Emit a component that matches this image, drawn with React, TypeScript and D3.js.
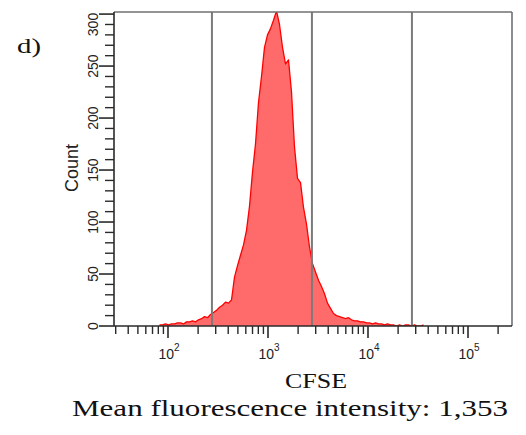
import React from "react";
import * as d3 from "d3";

// Histogram: counts per log-spaced channel (bin centre log10 = 1.915 + 0.03 * i)
const BIN_CENTER_LOG = 1.915;
const BIN_STEP_LOG = 0.03;
const counts = [
  1, 1, 2, 1, 2, 2, 3, 3, 2, 4,
  4, 5, 4, 6, 7, 9, 8, 11, 13, 15,
  18, 20, 23, 22, 25, 47, 58, 68, 78, 92,
  115, 148, 175, 215, 240, 268, 280, 286, 294, 303,
  290, 268, 252, 256, 225, 172, 142, 138, 114, 98,
  76, 60, 52, 44, 38, 31, 22, 17, 12, 10,
  9, 8, 7, 8, 6, 5, 5, 4, 4, 3,
  3, 2, 3, 2, 2, 1, 2, 1, 1, 0,
  1, 0, 1, 1, 0, 1, 0, 0, 1,
];

const gates = [275, 2750, 27500];
const xDomain = [Math.pow(10, 1.46), Math.pow(10, 5.44)];
const yDomain = [0, 302];
const yMajorTicks = [0, 50, 100, 150, 200, 250, 300];
const xMajorExps = [2, 3, 4, 5];

const xLabel = "CFSE";
const yLabel = "Count";
const panelLabel = "d)";
const caption = "Mean fluorescence intensity: 1,353";

export default function App() {
  const left = 114, right = 512, top = 12, bottom = 326;
  const x = d3.scaleLog().domain(xDomain).range([left, right]);
  const y = d3.scaleLinear().domain(yDomain).range([bottom, top]);

  const pts: [number, number][] = counts.map((c, i) => [
    Math.pow(10, BIN_CENTER_LOG + BIN_STEP_LOG * i),
    c,
  ]);

  const area = d3
    .area<[number, number]>()
    .x((d) => x(d[0]))
    .y0(y(0))
    .y1((d) => y(d[1]))
    .curve(d3.curveLinear);
  const line = d3
    .line<[number, number]>()
    .x((d) => x(d[0]))
    .y((d) => y(d[1]))
    .curve(d3.curveLinear);

  const xMinor: number[] = [];
  for (let e = 1; e <= 5; e++) {
    for (let m = 2; m <= 9; m++) {
      const v = m * Math.pow(10, e);
      if (v >= xDomain[0] && v <= xDomain[1]) xMinor.push(v);
    }
  }
  const yMinor = d3.range(0, 301, 10).filter((v) => v % 50 !== 0);

  const axisColor = "#2a2a2a";
  const frameColor = "#707070";

  return (
    <svg
      width={526}
      height={435}
      style={{ position: "absolute", left: 0, top: 0, background: "#fff" }}
    >
      <defs>
        <clipPath id="plotclip">
          <rect x={left} y={top} width={right - left} height={bottom - top} />
        </clipPath>
      </defs>
      <rect x={0} y={0} width={526} height={435} fill="#fff" />

      <g clipPath="url(#plotclip)">
        <path d={area(pts) || ""} fill="#ff6b6b" />
        <path d={line(pts) || ""} fill="none" stroke="#ff0000" strokeWidth={1.3} strokeLinejoin="round" />
      </g>

      {gates.map((g) => (
        <line
          key={g}
          x1={x(g)}
          x2={x(g)}
          y1={top}
          y2={bottom}
          stroke="#7a7a7a"
          strokeWidth={2}
        />
      ))}

      {/* frame */}
      <line x1={left} x2={right} y1={top} y2={top} stroke={frameColor} strokeWidth={1.6} />
      <line x1={right} x2={right} y1={top} y2={bottom} stroke={frameColor} strokeWidth={1.6} />
      <line x1={left} x2={left} y1={top} y2={bottom} stroke={axisColor} strokeWidth={1.6} />
      <line x1={left} x2={right} y1={bottom} y2={bottom} stroke={axisColor} strokeWidth={1.6} />

      {/* y ticks */}
      {yMinor.map((v) => (
        <line key={"ym" + v} x1={left - 9} x2={left} y1={y(v)} y2={y(v)} stroke={axisColor} strokeWidth={1.4} />
      ))}
      {yMajorTicks.map((v) => (
        <line key={"yM" + v} x1={left - 15} x2={left} y1={y(v)} y2={y(v)} stroke={axisColor} strokeWidth={1.6} />
      ))}
      {yMajorTicks.map((v) => {
        const cy = Math.max(y(v), top + 12.5);
        return (
          <text
            key={"yl" + v}
            transform={`translate(98,${cy}) rotate(-90)`}
            textAnchor="middle"
            fontFamily="Liberation Sans, Arial, sans-serif"
            fontSize={14}
            fill="#222"
          >
            {v}
          </text>
        );
      })}

      {/* x ticks */}
      {xMinor.map((v) => (
        <line key={"xm" + v} x1={x(v)} x2={x(v)} y1={bottom} y2={bottom + 8} stroke={axisColor} strokeWidth={1.4} />
      ))}
      {xMajorExps.map((e) => (
        <line
          key={"xM" + e}
          x1={x(Math.pow(10, e))}
          x2={x(Math.pow(10, e))}
          y1={bottom}
          y2={bottom + 12}
          stroke={axisColor}
          strokeWidth={1.6}
        />
      ))}
      {xMajorExps.map((e) => (
        <text
          key={"xl" + e}
          x={x(Math.pow(10, e)) + 1}
          y={359}
          textAnchor="middle"
          fontFamily="Liberation Sans, Arial, sans-serif"
          fontSize={14}
          fill="#222"
        >
          10
          <tspan dy={-8} fontSize={10}>
            {e}
          </tspan>
        </text>
      ))}

      {/* axis titles */}
      <text
        transform="translate(78,168) rotate(-90)"
        textAnchor="middle"
        fontFamily="Liberation Sans, Arial, sans-serif"
        fontSize={18}
        fill="#222"
      >
        {yLabel}
      </text>
      <text
        x={285}
        y={388}
        textLength={62}
        lengthAdjust="spacingAndGlyphs"
        fontFamily="Liberation Serif, Times New Roman, serif"
        fontSize={20}
        fill="#111"
      >
        {xLabel}
      </text>
      <text
        x={72}
        y={416}
        textLength={436}
        lengthAdjust="spacingAndGlyphs"
        fontFamily="Liberation Serif, Times New Roman, serif"
        fontSize={23}
        fill="#111"
      >
        {caption}
      </text>
      <text
        x={17}
        y={53}
        textLength={24}
        lengthAdjust="spacingAndGlyphs"
        fontFamily="Liberation Serif, Times New Roman, serif"
        fontSize={22}
        fill="#111"
      >
        {panelLabel}
      </text>
    </svg>
  );
}
